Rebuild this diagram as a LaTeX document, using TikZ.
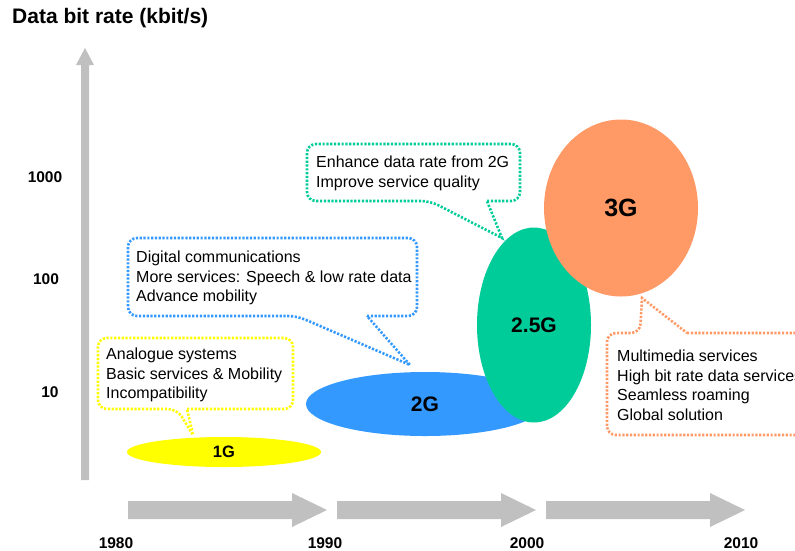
\documentclass[tikz,border=0pt]{standalone}
\usepackage{fontspec}
\setmainfont{Liberation Sans}
\usetikzlibrary{shapes.geometric}
\definecolor{ygen}{HTML}{FFFF00}
\definecolor{bgen}{HTML}{3399FF}
\definecolor{ggen}{HTML}{00CC99}
\definecolor{ogen}{HTML}{FF9966}
\definecolor{arrgray}{HTML}{C0C0C0}
\begin{document}
\begin{tikzpicture}[x=1pt,y=-1pt,
  callout/.style={line width=2.6pt, dash pattern=on 2.2pt off 1.6pt},
  calltext/.style={anchor=north west, inner sep=0pt, align=left,
     font=\fontsize{16}{19.5}\selectfont},
  gen/.style={ellipse, inner sep=0pt, draw=none},
  axlabel/.style={font=\bfseries\fontsize{15.5}{15.5}\selectfont, inner sep=0pt},
  grayarrow/.style={fill=arrgray, draw=none}]
\useasboundingbox (0,0) rectangle (795,550);
% title
\node[anchor=west, inner sep=0pt, font=\bfseries\fontsize{21}{21}\selectfont] (title) at (12,18) {Data bit rate (kbit/s)};
% vertical axis arrow
\fill[grayarrow] (81,480) -- (81,65) -- (76,65) -- (85,48) -- (94,65) -- (89,65) -- (89,480) -- cycle;
% y labels
\node[axlabel] (y1000) at (45,177) {1000};
\node[axlabel] (y100) at (46,279) {100};
\node[axlabel] (y10) at (50,392) {10};
% timeline arrows
\foreach \xa in {128,337,546}{
  \fill[grayarrow] (\xa,501) -- (\xa+164,501) -- (\xa+164,493) -- (\xa+199,510) -- (\xa+164,527) -- (\xa+164,519) -- (\xa,519) -- cycle;
}
\node[axlabel] (yr1980) at (116,543) {1980};
\node[axlabel] (yr1990) at (325,543) {1990};
\node[axlabel] (yr2000) at (527,543) {2000};
\node[axlabel] (yr2010) at (741,543) {2010};
% callouts
\draw[callout, ygen, rounded corners=9pt] (187,409) -- (293,409) -- (293,338) -- (98,338) -- (98,409) -- (177,409) [sharp corners] -- (193,435) -- (187,409);
\node[calltext] (t1) at (106,348) {Analogue systems\\Basic services \& Mobility\\Incompatibility};
\draw[callout, bgen, rounded corners=9pt] (367,316) -- (417,316) -- (417,238) -- (128,238) -- (128,316) -- (297,316) [sharp corners] -- (410,365) -- (367,316);
\node[calltext] (t2) at (136,251) {Digital communications\\More services: Speech \& low rate data\\Advance mobility};
\draw[callout, ggen, rounded corners=9pt] (487,201) -- (520,201) -- (520,144) -- (307,144) -- (307,201) -- (430,201) [sharp corners] -- (502,238) -- (487,201);
\node[calltext] (t25) at (316,156) {Enhance data rate from 2G\\Improve service quality};
\draw[callout, ogen, rounded corners=9pt] (687,333) -- (812,333) -- (812,435) -- (607,435) -- (607,333) -- (640,333) [sharp corners] -- (642,298) -- (687,333);
\node[calltext] (t3) at (617,350) {Multimedia services\\High bit rate data services\\Seamless roaming\\Global solution};
% generations
\node[gen, fill=ygen, minimum width=194pt, minimum height=30pt, font=\bfseries\fontsize{16.5}{16.5}\selectfont] (g1) at (224,452) {1G};
\node[gen, fill=bgen, minimum width=238pt, minimum height=64pt, font=\bfseries\fontsize{21}{21}\selectfont] (g2) at (425,404) {2G};
\node[gen, fill=ggen, minimum width=114pt, minimum height=195pt, font=\bfseries\fontsize{21}{21}\selectfont] (g25) at (534,325) {2.5G};
\node[gen, fill=ogen, minimum width=154pt, minimum height=177pt, font=\bfseries\fontsize{25}{25}\selectfont] (g3) at (621,208) {3G};
\end{tikzpicture}
\end{document}
